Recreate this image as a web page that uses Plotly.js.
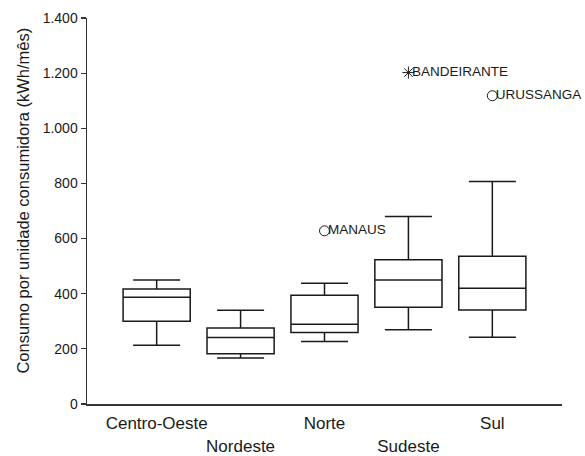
<!DOCTYPE html>
<html><head><meta charset="utf-8">
<script src="https://cdn.plot.ly/plotly-3.0.1.min.js"></script>
<style>html,body{margin:0;padding:0;background:#fff}</style>
</head><body>
<div id="chart" style="width:585px;height:456px"></div>
<script>
const categories = ['Centro-Oeste','Nordeste','Norte','Sudeste','Sul'];
const lowerWhisker = [213,167,227,269,242];
const q1 = [300,182,259,351,341];
const median = [387,241,289,450,420];
const q3 = [417,276,394,523,536];
const upperWhisker = [450,340,438,680,807];
const outlierRegion = ['Norte','Sudeste','Sul'];
const outlierValue = [628,1202,1118];
const outlierName = ['MANAUS','BANDEIRANTE','URUSSANGA'];
const outlierSymbol = ['circle-open','asterisk-open','circle-open'];
const yTicks = [0,200,400,600,800,1000,1200,1400];
const upperRowLabels = ['Centro-Oeste','Norte','Sul'];
const lowerRowLabels = ['Nordeste','Sudeste'];
const yTitle = 'Consumo por unidade consumidora (kWh/mês)';

const ink = '#1a1a1a';
const FONT = 'Liberation Sans, Arial, sans-serif';

const traces = categories.map((c, i) => ({
  type: 'box',
  x: [c],
  q1: [q1[i]], median: [median[i]], q3: [q3[i]],
  lowerfence: [lowerWhisker[i]], upperfence: [upperWhisker[i]],
  xaxis: lowerRowLabels.includes(c) ? 'x2' : 'x',
  yaxis: 'y',
  width: 0.8,
  whiskerwidth: 0.7,
  boxpoints: false,
  fillcolor: 'rgba(255,255,255,0)',
  line: {color: ink, width: 1.5},
  hoverinfo: 'skip',
  showlegend: false
}));

// outlier markers
traces.push({
  type: 'scatter',
  x: outlierRegion,
  y: outlierValue,
  mode: 'markers',
  marker: {symbol: outlierSymbol, size: 10, color: ink, line: {color: ink, width: 1}},
  xaxis: 'x', yaxis: 'y',
  showlegend: false,
  hoverinfo: 'skip',
  cliponaxis: false
});
// outlier labels (invisible small marker only sets the text offset)
traces.push({
  type: 'scatter',
  x: outlierRegion,
  y: outlierValue,
  mode: 'markers+text',
  text: outlierName,
  textposition: 'middle right',
  textfont: {family: FONT, size: 13.5, color: ink},
  marker: {size: 4, opacity: 0, color: ink},
  xaxis: 'x', yaxis: 'y',
  showlegend: false,
  hoverinfo: 'skip',
  cliponaxis: false
});

const xCommon = {
  type: 'category',
  categoryorder: 'array',
  categoryarray: categories,
  range: [-0.83, 4.83],
  showgrid: false,
  zeroline: false,
  ticks: '',
  tickfont: {family: FONT, size: 17, color: ink},
  fixedrange: true
};

const layout = {
  width: 585, height: 456,
  margin: {l: 87, r: 23, t: 18, b: 52},
  paper_bgcolor: '#fff', plot_bgcolor: '#fff',
  separators: ',.',
  font: {family: FONT, color: ink},
  showlegend: false,
  xaxis: Object.assign({}, xCommon, {
    tickvals: upperRowLabels,
    showline: true, linecolor: '#333', linewidth: 1.5,
    ticklabelstandoff: 3
  }),
  xaxis2: Object.assign({}, xCommon, {
    overlaying: 'x', anchor: 'y', side: 'bottom',
    tickvals: lowerRowLabels,
    showline: false,
    ticklabelstandoff: 30
  }),
  yaxis: {
    range: [0, 1400],
    tickvals: yTicks,
    tickformat: ',d',
    ticks: 'outside', ticklen: 5, tickwidth: 1.2, tickcolor: '#333',
    showline: true, linecolor: '#333', linewidth: 1.5,
    showgrid: false, zeroline: false,
    tickfont: {family: FONT, size: 14, color: ink},
    fixedrange: true
  },
  annotations: [{
    text: yTitle,
    xref: 'paper', yref: 'paper',
    x: 0, y: 0.527,
    xanchor: 'center', yanchor: 'middle',
    xshift: -64,
    textangle: -90,
    showarrow: false,
    font: {family: FONT, size: 16.5, color: ink}
  }]
};

Plotly.newPlot('chart', traces, layout, {displayModeBar: false, staticPlot: true});
</script>
</body></html>
